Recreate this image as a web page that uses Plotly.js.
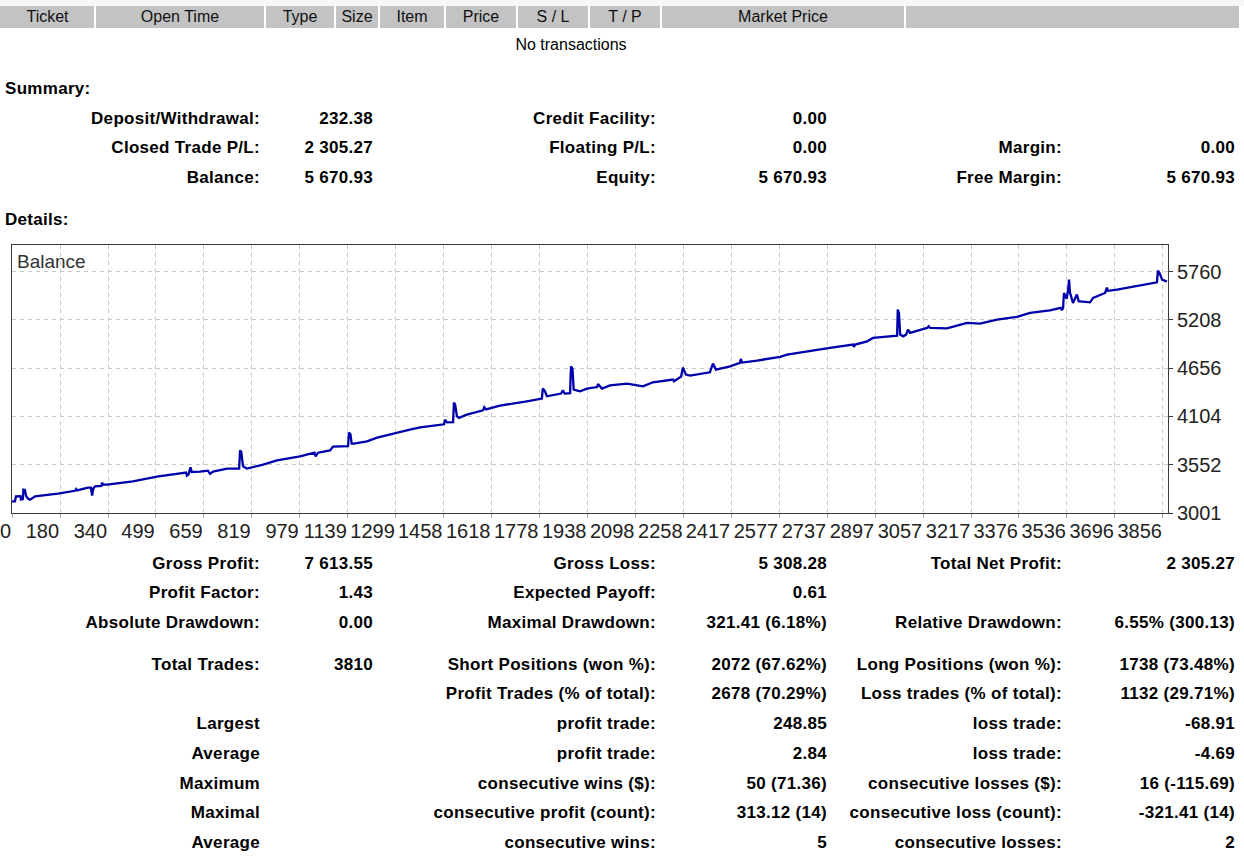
<!DOCTYPE html>
<html>
<head>
<meta charset="utf-8">
<script src="https://cdn.plot.ly/plotly-3.0.1.min.js"></script>
<style>
  html, body { margin: 0; padding: 0; background: #ffffff; }
  body { width: 1244px; height: 857px; position: relative; overflow: hidden;
         font-family: "Liberation Sans", Arial, sans-serif; color: #000; }
  .t { position: absolute; white-space: nowrap; }
  .b { letter-spacing: 0.3px; }
  #chart { position: absolute; left: 0; top: 235px; width: 1244px; height: 320px; }
</style>
</head>
<body>
<div id="chart"></div>
<script>
// ---------- data ----------
const headerCols = ['Ticket', 'Open Time', 'Type', 'Size', 'Item', 'Price', 'S / L', 'T / P', 'Market Price', ''];
const noTransText = 'No transactions';
const summaryTitle = 'Summary:';
const detailsTitle = 'Details:';

const summaryRows = [
  ['Deposit/Withdrawal:', '232.38', 'Credit Facility:', '0.00', '', ''],
  ['Closed Trade P/L:', '2 305.27', 'Floating P/L:', '0.00', 'Margin:', '0.00'],
  ['Balance:', '5 670.93', 'Equity:', '5 670.93', 'Free Margin:', '5 670.93']
];
const detailRows = [
  ['Gross Profit:', '7 613.55', 'Gross Loss:', '5 308.28', 'Total Net Profit:', '2 305.27'],
  ['Profit Factor:', '1.43', 'Expected Payoff:', '0.61', '', ''],
  ['Absolute Drawdown:', '0.00', 'Maximal Drawdown:', '321.41 (6.18%)', 'Relative Drawdown:', '6.55% (300.13)'],
  ['Total Trades:', '3810', 'Short Positions (won %):', '2072 (67.62%)', 'Long Positions (won %):', '1738 (73.48%)'],
  ['', '', 'Profit Trades (% of total):', '2678 (70.29%)', 'Loss trades (% of total):', '1132 (29.71%)'],
  ['Largest', '', 'profit trade:', '248.85', 'loss trade:', '-68.91'],
  ['Average', '', 'profit trade:', '2.84', 'loss trade:', '-4.69'],
  ['Maximum', '', 'consecutive wins ($):', '50 (71.36)', 'consecutive losses ($):', '16 (-115.69)'],
  ['Maximal', '', 'consecutive profit (count):', '313.12 (14)', 'consecutive loss (count):', '-321.41 (14)'],
  ['Average', '', 'consecutive wins:', '5', 'consecutive losses:', '2']
];

const chartLabel = 'Balance';
const tradeNo = [20, 30, 33, 48, 50, 56, 58, 63, 67, 75, 80, 90, 97, 173, 230, 234, 237, 273, 283, 287, 291, 297, 318, 320, 324, 337,
  423, 503, 590, 600, 603, 608, 615, 619, 647, 673, 680, 690, 737, 777, 780, 784, 790, 803, 857, 903, 980, 1028, 1032, 1040,
  1080, 1090, 1140, 1143, 1148, 1152, 1160, 1203, 1237, 1303, 1346, 1380, 1446, 1460, 1463, 1470, 1490, 1493, 1497, 1503, 1510,
  1536, 1590, 1594, 1600, 1646, 1736, 1786, 1789, 1795, 1803, 1850, 1856, 1862, 1880, 1883, 1888, 1892, 1913, 1936, 1970, 1973,
  1986, 2013, 2070, 2113, 2123, 2156, 2223, 2226, 2250, 2256, 2266, 2280, 2346, 2356, 2366, 2413, 2446, 2449, 2453, 2503, 2580,
  2603, 2646, 2713, 2746, 2823, 2826, 2830, 2870, 2890, 2970, 2972, 2976, 2980, 2990, 3000, 3006, 3013, 3070, 3075, 3080, 3136,
  3203, 3246, 3303, 3369, 3413, 3479, 3515, 3519, 3523, 3526, 3535, 3540, 3543, 3546, 3549, 3556, 3569, 3575, 3579, 3613, 3623,
  3663, 3669, 3673, 3703, 3756, 3803, 3836, 3839, 3845, 3853, 3869];
const balance = [3133, 3135, 3190, 3192, 3154, 3160, 3268, 3265, 3192, 3160, 3154, 3175, 3192, 3222, 3255, 3275, 3260, 3291, 3290, 3200, 3280, 3306, 3310, 3348, 3325, 3325,
  3363, 3417, 3458, 3463, 3428, 3440, 3523, 3470, 3473, 3485, 3448, 3475, 3508, 3508, 3717, 3700, 3535, 3508, 3554, 3603, 3649, 3691, 3649, 3690,
  3717, 3760, 3764, 3920, 3900, 3794, 3794, 3820, 3863, 3923, 3954, 3980, 4011, 4015, 4068, 4037, 4040, 4263, 4240, 4106, 4088,
  4125, 4175, 4209, 4185, 4228, 4278, 4308, 4423, 4400, 4335, 4366, 4403, 4366, 4370, 4678, 4650, 4411, 4392, 4423, 4440, 4475,
  4423, 4460, 4480, 4460, 4449, 4495, 4526, 4506, 4560, 4663, 4583, 4571, 4609, 4708, 4640, 4678, 4716, 4762, 4720, 4743, 4785,
  4811, 4834, 4876, 4888, 4926, 4899, 4926, 4963, 5002, 5028, 5326, 5288, 5040, 5020, 5040, 5097, 5059, 5116, 5135, 5116, 5110,
  5174, 5166, 5211, 5242, 5288, 5318, 5345, 5318, 5345, 5516, 5450, 5560, 5669, 5520, 5478, 5402, 5497, 5420, 5420, 5409, 5459,
  5516, 5577, 5540, 5554, 5585, 5611, 5638, 5771, 5740, 5669, 5645];

const xTickVals = [20, 180, 340, 499, 659, 819, 979, 1139, 1299, 1458, 1618, 1778, 1938, 2098, 2258, 2417, 2577, 2737, 2897, 3057, 3217, 3376, 3536, 3696, 3856];
const xTickText = ['0', '180', '340', '499', '659', '819', '979', '1139', '1299', '1458', '1618', '1778', '1938', '2098', '2258', '2417', '2577', '2737', '2897', '3057', '3217', '3376', '3536', '3696', '3856'];
const yTickVals = [3001, 3552, 4104, 4656, 5208, 5760];
const yTickText = ['3001', '3552', '4104', '4656', '5208', '5760'];

// ---------- page text ----------
function place(text, x, yc, align, bold, size, color) {
  if (!text) return;
  const d = document.createElement('div');
  d.className = bold ? 't b' : 't';
  d.textContent = text;
  d.style.fontSize = size + 'px';
  d.style.lineHeight = size + 'px';
  d.style.top = (yc - size / 2) + 'px';
  d.style.fontWeight = bold ? 'bold' : 'normal';
  if (color) d.style.color = color;
  if (align === 'right') { d.style.right = (1244 - x) + 'px'; d.style.textAlign = 'right'; }
  else if (align === 'center') { d.style.left = (x - 200) + 'px'; d.style.width = '400px'; d.style.textAlign = 'center'; }
  else { d.style.left = x + 'px'; }
  document.body.appendChild(d);
}

// header band
const topStrip = document.createElement('div');
topStrip.style.cssText = 'position:absolute;left:0;top:0;width:1244px;height:6px;background:#f6f6f6;';
document.body.appendChild(topStrip);
const colEdges = [0, 95, 265, 335, 379, 445, 517, 589, 661, 905, 1240];
for (let i = 0; i < headerCols.length; i++) {
  const c = document.createElement('div');
  const l = colEdges[i] + (i ? 1 : 0), r = colEdges[i + 1] - 1;
  c.style.cssText = 'position:absolute;top:6px;height:22px;background:#c3c3c3;left:' + l + 'px;width:' + (r - l) + 'px;';
  document.body.appendChild(c);
  place(headerCols[i], (colEdges[i] + colEdges[i + 1]) / 2, 17, 'center', false, 16, '#111');
}
place(noTransText, 571, 45, 'center', false, 16, '#000');
place(summaryTitle, 5, 88, 'left', true, 17);
place(detailsTitle, 5, 219, 'left', true, 17);

const colRight = [260, 373, 656, 827, 1062, 1235];
const summaryY = [118, 147, 177];
const detailY = [563, 592, 622, 664, 693, 723, 753, 783, 812, 842];
summaryRows.forEach((row, r) => row.forEach((txt, c) => place(txt, colRight[c], summaryY[r], 'right', true, 17)));
detailRows.forEach((row, r) => row.forEach((txt, c) => place(txt, colRight[c], detailY[r], 'right', true, 17)));

// ---------- chart ----------
const fontFam = '"Liberation Sans", Arial, sans-serif';
Plotly.newPlot('chart', [{
  x: tradeNo, y: balance, type: 'scatter', mode: 'lines',
  line: { color: '#0000aa', width: 2.3 }, hoverinfo: 'skip'
}], {
  width: 1244, height: 320,
  margin: { l: 12, r: 76, t: 10, b: 42, pad: 0 },
  paper_bgcolor: 'rgba(0,0,0,0)', plot_bgcolor: '#ffffff',
  showlegend: false,
  font: { family: fontFam, size: 20, color: '#222' },
  xaxis: {
    range: [20, 3872.7], tickmode: 'array', tickvals: xTickVals, ticktext: xTickText, tickangle: 0,
    ticks: 'outside', ticklen: 4, tickcolor: '#aaa', ticklabelposition: 'outside left', ticklabeloverflow: 'allow',
    showgrid: true, gridcolor: '#c8c8c8', griddash: '4px,4px', gridwidth: 1,
    showline: true, mirror: true, linecolor: '#3a3a3a', linewidth: 1, zeroline: false,
    tickfont: { family: fontFam, size: 20, color: '#222' }, fixedrange: true
  },
  yaxis: {
    range: [3001, 6064], side: 'right', tickmode: 'array', tickvals: yTickVals, ticktext: yTickText,
    ticks: 'outside', ticklen: 4, tickcolor: '#3a3a3a',
    showgrid: true, gridcolor: '#c8c8c8', griddash: '4px,4px', gridwidth: 1,
    showline: true, mirror: true, linecolor: '#3a3a3a', linewidth: 1, zeroline: false,
    tickfont: { family: fontFam, size: 20, color: '#222' }, fixedrange: true
  },
  annotations: [{
    text: chartLabel, xref: 'paper', yref: 'paper', x: 0, y: 1, xanchor: 'left', yanchor: 'top',
    xshift: 3, yshift: -4, showarrow: false, font: { family: fontFam, size: 19, color: '#333' }
  }]
}, { staticPlot: true, displayModeBar: false });
</script>
</body>
</html>
